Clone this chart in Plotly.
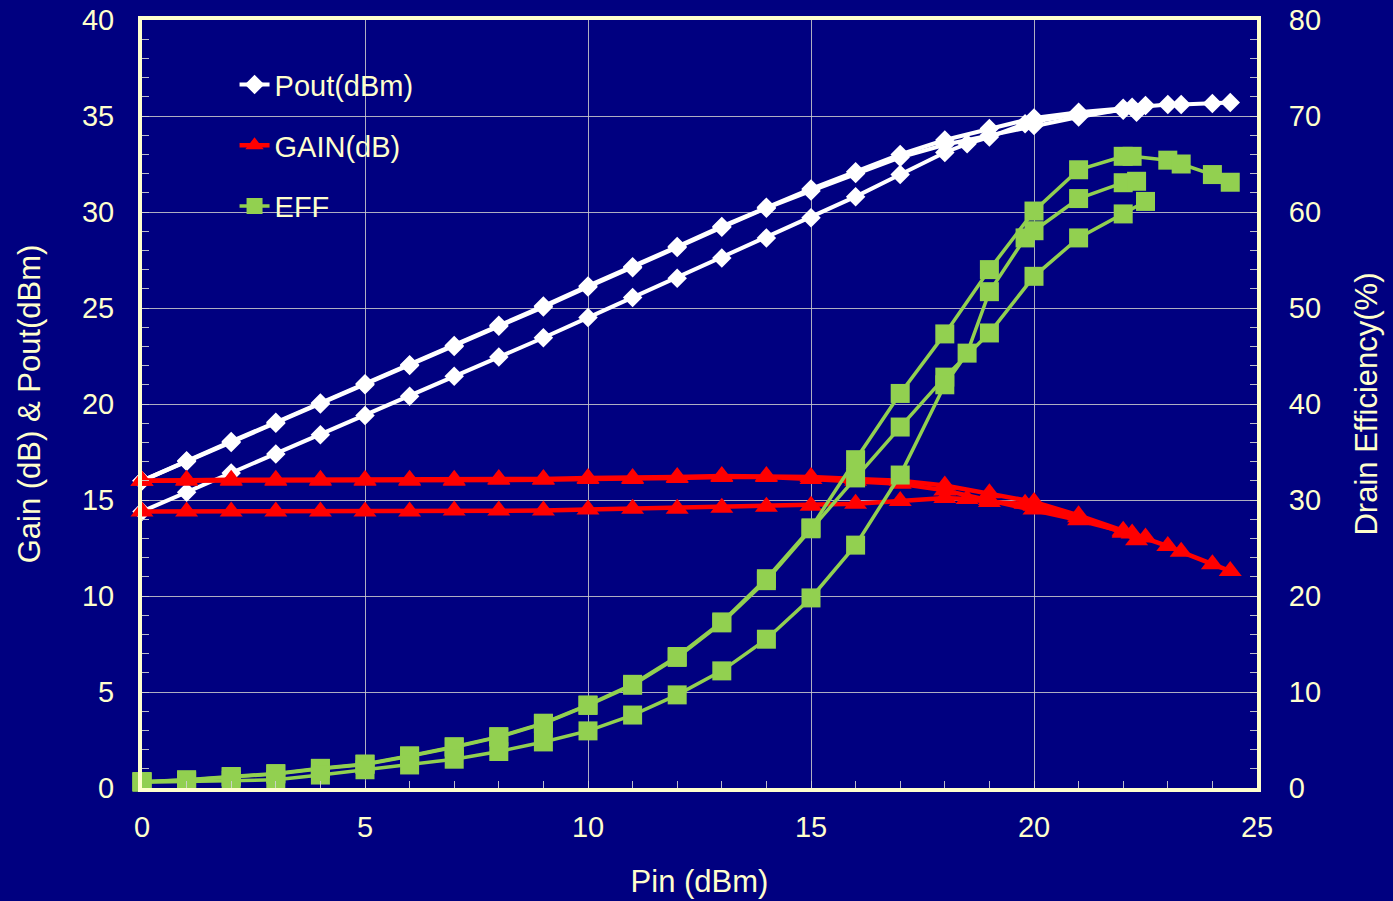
import plotly.graph_objects as go

# ---------------- data ----------------
pin_a = [0, 1, 2, 3, 4, 5, 6, 7, 8, 9, 10, 11, 12, 13, 14, 15, 16, 17, 18, 19, 20, 21, 22, 22.2, 23, 23.3, 24, 24.4]
pin_b = [0, 1, 2, 3, 4, 5, 6, 7, 8, 9, 10, 11, 12, 13, 14, 15, 16, 17, 18, 19, 20, 21, 22, 22.5]
pin_c = [0, 1, 2, 3, 4, 5, 6, 7, 8, 9, 10, 11, 12, 13, 14, 15, 16, 17, 18, 18.5, 19, 19.8, 20, 21, 22, 22.3]

pout_a = [16.0, 17.05, 18.05, 19.05, 20.05, 21.05, 22.05, 23.05, 24.1, 25.1, 26.15, 27.15, 28.2, 29.25, 30.25,
          31.2, 32.1, 33.0, 33.75, 34.35, 34.9, 35.2, 35.4, 35.45, 35.6, 35.6, 35.65, 35.7]
pout_b = [16.0, 17.0, 18.0, 19.0, 20.0, 21.0, 22.0, 23.0, 24.05, 25.05, 26.1, 27.1, 28.15, 29.2, 30.2,
          31.1, 32.0, 32.85, 33.5, 34.0, 34.5, 34.95, 35.35, 35.55]
pout_c = [14.4, 15.4, 16.4, 17.4, 18.4, 19.4, 20.4, 21.45, 22.45, 23.45, 24.5, 25.55, 26.55, 27.6, 28.65,
          29.7, 30.8, 31.95, 33.1, 33.55, 33.9, 34.6, 34.7, 35.1, 35.3, 35.2]

gain_a = [16.0, 16.05, 16.05, 16.05, 16.05, 16.05, 16.05, 16.05, 16.1, 16.1, 16.15, 16.15, 16.2, 16.25, 16.25,
          16.2, 16.1, 16.0, 15.75, 15.35, 14.9, 14.2, 13.4, 13.25, 12.6, 12.3, 11.65, 11.3]
gain_b = [16.0, 16.0, 16.0, 16.0, 16.0, 16.0, 16.0, 16.0, 16.05, 16.05, 16.1, 16.1, 16.15, 16.2, 16.2,
          16.1, 16.0, 15.85, 15.5, 15.0, 14.5, 13.95, 13.35, 13.05]
gain_c = [14.4, 14.4, 14.4, 14.4, 14.4, 14.4, 14.4, 14.45, 14.45, 14.45, 14.5, 14.55, 14.55, 14.6, 14.65,
          14.7, 14.8, 14.95, 15.1, 15.05, 14.9, 14.8, 14.7, 14.1, 13.3, 12.9]

eff_a = [0.66, 0.85, 1.2, 1.5, 2.05, 2.5, 3.35, 4.3, 5.35, 6.75, 8.65, 10.8, 13.7, 17.3, 21.8,
         27.1, 34.2, 41.1, 47.3, 54.0, 60.1, 64.4, 65.8, 65.8, 65.4, 65.0, 63.9, 63.1]
eff_b = [0.66, 0.83, 1.15, 1.45, 2.0, 2.45, 3.3, 4.25, 5.3, 6.7, 8.6, 10.7, 13.6, 17.2, 21.6,
         27.0, 32.3, 37.6, 42.8, 47.4, 53.3, 57.3, 59.8, 61.1]
eff_c = [0.6, 0.7, 0.8, 0.85, 1.35, 1.9, 2.4, 3.0, 3.8, 4.8, 5.95, 7.6, 9.7, 12.2, 15.5,
         19.8, 25.3, 32.6, 42.0, 45.3, 51.7, 57.3, 58.05, 61.4, 63.05, 63.2]

x_ticks = [0, 5, 10, 15, 20, 25]
y_ticks = [0, 5, 10, 15, 20, 25, 30, 35, 40]
y2_ticks = [0, 10, 20, 30, 40, 50, 60, 70, 80]

# ---------------- style ----------------
BG = "#000080"
TXT = "#FFFFCC"
GRID = "rgba(205,205,205,0.85)"
TICKC = "rgba(210,210,210,0.9)"
FONT = "Liberation Sans, Arial, sans-serif"

fig = go.Figure()

series = [
    ("Pout(dBm)", "white", 4, "diamond", 15, "y",
     [(pin_a, pout_a), (pin_b, pout_b), (pin_c, pout_c)]),
    ("GAIN(dB)", "#FF0000", 4.5, "triangle-up", 20, "y",
     [(pin_a, gain_a), (pin_b, gain_b), (pin_c, gain_c)]),
    ("EFF", "#92D050", 3.5, "square", 19, "y2",
     [(pin_a, eff_a), (pin_b, eff_b), (pin_c, eff_c)]),
]

for name, color, lw, sym, ms, yax, curves in series:
    for i, (xs, ys) in enumerate(curves):
        fig.add_trace(go.Scatter(
            x=xs, y=ys, mode="lines+markers", name=name,
            legendgroup=name, showlegend=(i == 0), yaxis=yax,
            line=dict(color=color, width=lw),
            marker=dict(symbol=sym, size=ms, color=color, line=dict(width=0)),
            cliponaxis=False,
        ))

axis_common = dict(
    showline=True, linecolor=TXT, linewidth=4,
    ticks="inside", ticklen=7, tickwidth=1, tickcolor=TICKC,
    tickfont=dict(family=FONT, size=29, color=TXT),
    zeroline=False, automargin=False,
)

fig.update_layout(
    width=1393, height=901,
    paper_bgcolor=BG, plot_bgcolor=BG,
    margin=dict(l=142, r=136, t=20, b=113),
    font=dict(family=FONT, color=TXT),
    showlegend=True,
    legend=dict(
        x=0.083, y=0.949, xanchor="left", yanchor="top",
        bgcolor="rgba(0,0,0,0)", borderwidth=0,
        font=dict(family=FONT, size=29, color=TXT),
        tracegroupgap=20, traceorder="grouped",
    ),
    xaxis=dict(
        range=[0, 25], tickvals=x_ticks, mirror=True,
        showgrid=True, gridcolor=GRID, gridwidth=1,
        minor=dict(dtick=1, ticks="inside", ticklen=7, tickcolor=TICKC, showgrid=False),
        title=dict(text="Pin (dBm)", font=dict(family=FONT, size=31, color=TXT), standoff=30),
        ticklabelstandoff=10,
        **axis_common,
    ),
    yaxis=dict(
        range=[0, 40], tickvals=y_ticks,
        showgrid=True, gridcolor=GRID, gridwidth=1,
        minor=dict(dtick=1, ticks="inside", ticklen=7, tickcolor=TICKC, showgrid=False),
        title=dict(text="Gain (dB) & Pout(dBm)", font=dict(family=FONT, size=31, color=TXT), standoff=33),
        ticklabelstandoff=18,
        **axis_common,
    ),
    yaxis2=dict(
        range=[0, 80], tickvals=y2_ticks, overlaying="y", side="right",
        showgrid=False,
        minor=dict(dtick=2, ticks="inside", ticklen=7, tickcolor=TICKC, showgrid=False),
        title=dict(text="Drain Efficiency(%)", font=dict(family=FONT, size=31, color=TXT), standoff=36),
        ticklabelstandoff=22,
        **axis_common,
    ),
)

fig.write_html("out.html", config={"displayModeBar": False},
               post_script="document.body.style.margin='0';document.body.style.background='#000080';")
